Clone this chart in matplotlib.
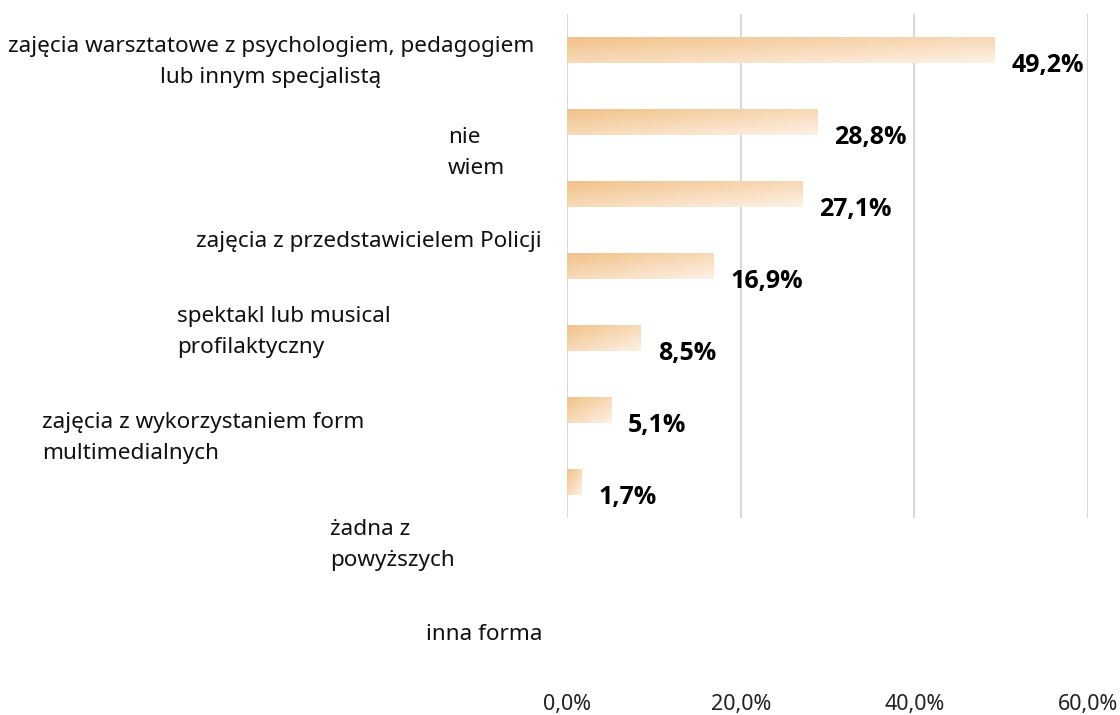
import matplotlib.pyplot as plt
import numpy as np
from matplotlib.colors import to_rgb

# dane
categories = [
    "zajęcia warsztatowe z psychologiem, pedagogiem\nlub innym specjalistą",
    "nie\nwiem",
    "zajęcia z przedstawicielem Policji",
    "spektakl lub musical\nprofilaktyczny",
    "zajęcia z wykorzystaniem form\nmultimedialnych",
    "żadna z\npowyższych",
    "inna forma",
]
values = [49.2, 28.8, 27.1, 16.9, 8.5, 5.1, 1.7]
value_labels = ["49,2%", "28,8%", "27,1%", "16,9%", "8,5%", "5,1%", "1,7%"]
xticks = [0, 20, 40, 60]
xtick_labels = ["0,0%", "20,0%", "40,0%", "60,0%"]

# pozycje etykiet kategorii (px od lewej / od góry, wyrównanie)
label_pos = [
    (271, 62, "center"),
    (448, 153, "left"),
    (542, 242, "right"),
    (177, 332, "left"),
    (42, 438, "left"),
    (330, 545, "left"),
    (542, 635, "right"),
]

W, H = 1120, 715
plt.rcParams['font.family'] = ['Noto Sans', 'DejaVu Sans']
fig = plt.figure(figsize=(W / 100, H / 100), dpi=100)
ax = fig.add_axes([567 / W, 1 - 518 / H, (1088 - 567) / W, (518 - 14) / H])

# gradient: lewy górny róg ciemniejszy, prawy dolny jaśniejszy
c1 = np.array(to_rgb("#F2C28A"))
c2 = np.array(to_rgb("#FDF1E4"))
gx, gy = np.meshgrid(np.linspace(0, 1, 64), np.linspace(0, 1, 16))
t = (0.5 * gx + 0.5 * gy)[..., None]
grad = c1 * (1 - t) + c2 * t

bh = 0.35
for i, v in enumerate(values):
    ax.imshow(grad, extent=(0, v, i + bh / 2, i - bh / 2), aspect='auto',
              interpolation='bilinear', zorder=2)
    ax.text(v + 1.95, i + 0.21, value_labels[i], ha='left', va='center',
            fontsize=18, fontweight='bold', family=['Open Sans', 'DejaVu Sans'],
            color='black', zorder=3)

ax.set_xlim(0, 60)
ax.set_ylim(len(values) - 0.5, -0.5)

for x in xticks:
    ax.axvline(x, color='#D9D9D9', lw=1.5, zorder=1)

ax.set_xticks(xticks)
ax.set_xticklabels(xtick_labels, fontsize=15.5, color='#222222')
ax.tick_params(axis='x', length=0, pad=127)
ax.set_yticks([])
for s in ax.spines.values():
    s.set_visible(False)

for (x, y, ha), txt in zip(label_pos, categories):
    fig.text(x / W, 1 - y / H, txt, ha=ha, va='center', multialignment=ha,
             fontsize=16.2, linespacing=1.62, color='#111111')

fig.savefig("out.png", dpi=100)
